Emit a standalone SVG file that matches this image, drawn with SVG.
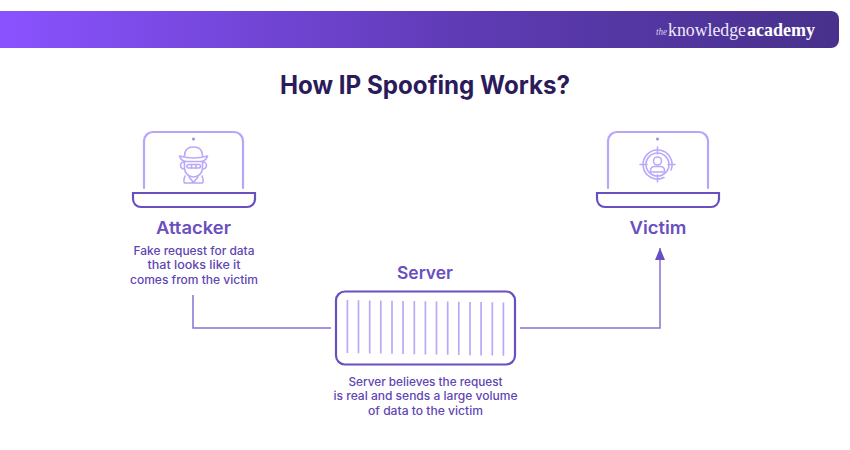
<svg xmlns="http://www.w3.org/2000/svg" width="850" height="450" viewBox="0 0 850 450">
<style>
text{font-family:Inter,"Liberation Sans",sans-serif;text-anchor:middle}
.title{font-size:25px;font-weight:700;fill:#2b1b5a}
.head{font-size:17.5px;font-weight:600;fill:#6a4fc0}
.cap{font-size:11.6px;font-weight:500;fill:#5f45b5}
.light{fill:none;stroke:#b8a4fb;stroke-width:2.200;stroke-linecap:round;stroke-linejoin:round}
.thin{fill:none;stroke:#bba8fb;stroke-width:1.600;stroke-linecap:round;stroke-linejoin:round}
.dark{fill:#fff;stroke:#6a4fc0;stroke-width:2.200}
.conn{fill:none;stroke:#8672d2;stroke-width:1.500}
.logo{font-family:"Liberation Serif",serif}
</style>
<defs>
<linearGradient id="bar" x1="0" x2="1" y1="0" y2="0"><stop offset="0" stop-color="#8a52ff"/><stop offset=".55" stop-color="#5f3bb5"/><stop offset="1" stop-color="#47318c"/></linearGradient>
<marker id="arrow" markerUnits="userSpaceOnUse" markerWidth="12" markerHeight="10" refX="12" refY="5" orient="auto" viewBox="0 0 12 10"><path d="M12 5L0 10V0Z" fill="#6a4fc0"/></marker>
</defs>
<rect width="850" height="450" fill="#fff"/>
<g id="banner">
<path d="M0 11H831a8 8 0 0 1 8 8V40a8 8 0 0 1-8 8H0Z" fill="url(#bar)"/>
<text class="logo" x="661.500" y="35" font-size="10.500" font-style="italic" fill="#d9d0ee" textLength="11" lengthAdjust="spacingAndGlyphs" style="font-family:'Liberation Serif',serif">the</text>
<text class="logo" x="707" y="36" font-size="19" fill="#efeaf8" textLength="78" lengthAdjust="spacingAndGlyphs" style="font-family:'Liberation Serif',serif">knowledge</text>
<text class="logo" x="781" y="36" font-size="19" font-weight="700" fill="#fff" textLength="68" lengthAdjust="spacingAndGlyphs" style="font-family:'Liberation Serif',serif">academy</text>
</g>
<text class="title" x="425" y="94" textLength="290" lengthAdjust="spacingAndGlyphs">How IP Spoofing Works?</text>
<g id="connectors">
<path class="conn" d="M193 295V328H331"/>
<path class="conn" d="M520 328H660V248" marker-end="url(#arrow)"/>
</g>
<g id="attacker">
<path class="light" d="M144 188V141a9 9 0 0 1 9-9H234a9 9 0 0 1 9 9V188"/>
<circle cx="193.500" cy="139" r="1.500" fill="#a08ce8"/>
<path class="dark" d="M133 193H255V199a8 8 0 0 1-8 8H141a8 8 0 0 1-8-8Z"/>
<g class="thin">
<path d="M184.500 156C184.500 150 188 147 193.500 147C199 147 202.500 150 202.500 156"/>
<path d="M179.500 156Q193.500 160 207.500 156Q206 161 201 161.500H186Q181 161 179.500 156Z"/>
<path d="M184.500 162V168a9 9 0 0 0 18 0V162"/>
<path d="M184 162a3.500 3.500 0 0 0 0 7M203 162a3.500 3.500 0 0 1 0 7"/>
<rect x="187" y="164.500" width="13.500" height="3.500" rx="1.700"/>
<path d="M191.500 164.500V168M196 164.500V168"/>
<path d="M185 176Q183 181 184.500 183H202.500Q204 181 202 176M189 177L193.500 182.500L198 177"/>
</g>
<text class="head" x="193.500" y="234" textLength="75" lengthAdjust="spacingAndGlyphs">Attacker</text>
<text class="cap" x="194" y="255" textLength="121" lengthAdjust="spacingAndGlyphs">Fake request for data</text>
<text class="cap" x="194" y="269" textLength="93" lengthAdjust="spacingAndGlyphs">that looks like it</text>
<text class="cap" x="194" y="284" textLength="128" lengthAdjust="spacingAndGlyphs">comes from the victim</text>
</g>
<g id="victim">
<path class="light" d="M608 188V141a9 9 0 0 1 9-9H699a9 9 0 0 1 9 9V188"/>
<circle cx="657.500" cy="139" r="1.500" fill="#a08ce8"/>
<path class="dark" d="M597 193H719V199a8 8 0 0 1-8 8H605a8 8 0 0 1-8-8Z"/>
<g class="thin">
<circle cx="657.500" cy="164.500" r="11.500"/>
<path d="M671 170A14.500 14.500 0 1 0 664 177.500"/>
<path d="M657.500 147V154M657.500 175V182M640 164.500H647M668 164.500H675"/>
<circle cx="657.500" cy="161" r="4"/>
<path d="M650.500 172V170.500a4 4 0 0 1 4-4h6a4 4 0 0 1 4 4V172Z"/>
</g>
<text class="head" x="658" y="234" textLength="57" lengthAdjust="spacingAndGlyphs">Victim</text>
</g>
<g id="server">
<text class="head" x="425" y="279" textLength="56" lengthAdjust="spacingAndGlyphs">Server</text>
<rect class="dark" x="336" y="291.500" width="179" height="73" rx="9"/>
<g stroke="#bba8fb" stroke-width="1.700" fill="none">
<path d="M347.400 300V353M358.500 300.200V353.200M369.700 300.400V353.400M380.800 300.500V353.600M392 300.700V353.800M403.100 300.900V354M414.300 301V354.200M425.400 301.200V354.400M436.500 301.400V354.600M447.700 301.500V354.800M458.800 301.700V355M470 301.900V355.200M481.100 302V355.400M492.300 302.200V355.600M503.400 302.400V355.800"/>
</g>
<text class="cap" x="425.500" y="386" textLength="154" lengthAdjust="spacingAndGlyphs">Server believes the request</text>
<text class="cap" x="425.500" y="400" textLength="184" lengthAdjust="spacingAndGlyphs">is real and sends a large volume</text>
<text class="cap" x="425.500" y="415" textLength="115" lengthAdjust="spacingAndGlyphs">of data to the victim</text>
</g>
</svg>
